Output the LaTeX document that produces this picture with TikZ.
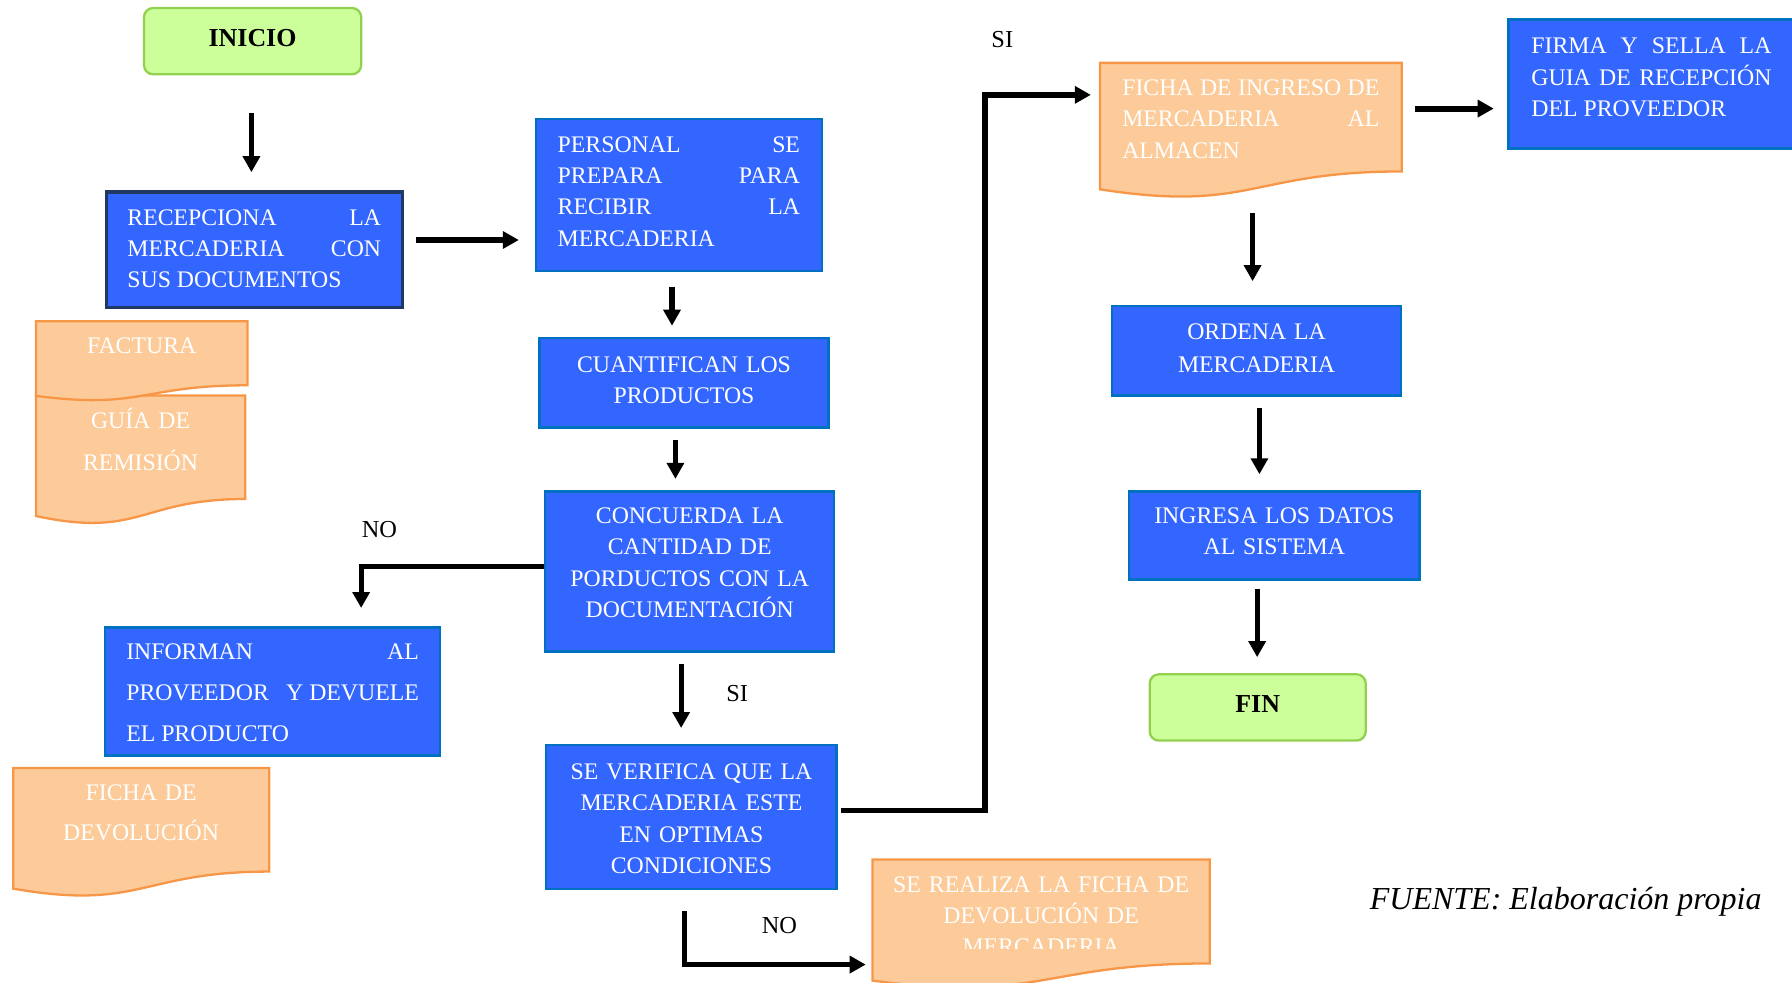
\documentclass[tikz,border=0pt]{standalone}
\usepackage{fontspec}
\setmainfont{Liberation Serif}
\usetikzlibrary{arrows.meta,calc,backgrounds}

\definecolor{procblue}{RGB}{51,102,255}
\definecolor{procedge}{RGB}{0,112,192}
\definecolor{navyedge}{RGB}{31,56,100}
\definecolor{docfill}{RGB}{252,203,153}
\definecolor{docedge}{RGB}{247,150,70}
\definecolor{termfill}{RGB}{204,255,153}
\definecolor{termedge}{RGB}{146,208,80}

\newcommand{\bodyfont}{\fontsize{15.6}{20.6}\selectfont}
\newcommand{\loosefont}{\fontsize{15.6}{27}\selectfont}
% wavy bottom of a document shape, #2 = full height
\newcommand{\docpath}[2]{%
  \path[docline] (#1.north west) -- (#1.north east) -- ($(#1.north east)+(0,0.802*#2)$)
    .. controls ($(#1.north)+(0,0.802*#2)$) and ($(#1.north)+(0,1.107*#2)$) .. ($(#1.north west)+(0,0.934*#2)$) -- cycle;}

\tikzset{every picture/.style={line width=0.75pt}}
\tikzset{
  proc/.style={draw=procedge, fill=procblue, line width=1.5pt, text=white, font=\bodyfont, align=center, inner xsep=10pt, inner ysep=0pt},
  term/.style={draw=termedge, fill=termfill, line width=1.5pt, rounded corners=6pt, font=\fontsize{17}{20}\selectfont\bfseries, minimum width=142.5pt, inner ysep=0pt, text height=25.3pt, text depth=18.2pt},
  doc/.style={anchor=north, text=white, font=\bodyfont, align=center, text height=10.3pt, inner ysep=10.8pt, inner xsep=10pt},
  docline/.style={draw=docedge, fill=docfill, line width=1.5pt},
  arr/.style={line width=3.3pt, -{Triangle[length=10.5pt,width=11pt]}},
  lab/.style={font=\fontsize{16}{19}\selectfont},
}

\begin{document}
\begin{tikzpicture}[x=0.75pt,y=0.75pt,yscale=-1,xscale=1]
%set diagram to the size of the page
\useasboundingbox (0,0) rectangle (1568,860);

%Shape: Rounded Rect
\node[term] (inicio) at (221,36) {INICIO};
%Shape: Rectangle
\node[proc, draw=navyedge, line width=2pt, minimum width=194.25pt, text width=166.5pt, text height=21.7pt, text depth=54.05pt, align=justify] (recep) at (222.5,218.5) {RECEPCIONA LA\linebreak MERCADERIA CON\linebreak SUS DOCUMENTOS};
%Shape: Rectangle
\node[proc, minimum width=187.5pt, text width=159pt, text height=21.75pt, text depth=78pt, align=justify] (personal) at (594,170.5) {PERSONAL SE\linebreak PREPARA PARA\linebreak RECIBIR LA\linebreak MERCADERIA};
%Shape: Rectangle
\node[proc, minimum width=189.75pt, text width=169.75pt, text height=22.5pt, text depth=36pt] (cuant) at (598.5,335) {CUANTIFICAN LOS\\PRODUCTOS};
%Shape: Rectangle
\node[proc, minimum width=189.75pt, text width=169.75pt, text height=21pt, text depth=84pt] (concuerda) at (603.5,500) {CONCUERDA LA\\CANTIDAD DE\\PORDUCTOS CON LA\\DOCUMENTACIÓN};
%Shape: Rectangle
\node[proc, font=\loosefont, minimum width=219.75pt, text width=192pt, text height=21pt, text depth=63pt, align=justify] (informan) at (238.5,605) {INFORMAN AL\linebreak PROVEEDOR \hfill Y DEVUELE\linebreak EL PRODUCTO};
%Shape: Rectangle
\node[proc, minimum width=190.5pt, text width=170.5pt, text height=22.5pt, text depth=72pt] (verif) at (605,715) {SE VERIFICA QUE LA\\MERCADERIA ESTE\\EN OPTIMAS\\CONDICIONES};
%Shape: Rectangle
\node[proc, minimum width=187.5pt, text width=157.5pt, text height=22.5pt, text depth=62.25pt, align=justify] (firma) at (1445,73.5) {FIRMA Y SELLA LA\linebreak GUIA DE RECEPCIÓN\linebreak DEL PROVEEDOR};
%Shape: Rectangle
\node[proc, font=\fontsize{15.6}{21.75}\selectfont, minimum width=189.75pt, text width=169.75pt, text height=21.75pt, text depth=36.75pt] (ordena) at (1099.5,307) {ORDENA LA\\MERCADERIA};
%Shape: Rectangle
\node[proc, minimum width=190.5pt, text width=170.5pt, text height=21pt, text depth=36.75pt] (ingresa) at (1115,468.5) {INGRESA LOS DATOS\\AL SISTEMA};
%Shape: Rounded Rect
\node[term, minimum width=141.75pt] (fin) at (1100.5,619) {FIN};

%Shape: Document
\node[doc, minimum width=138pt, text width=118pt] (factura) at (124,281) {FACTURA};
%Shape: Document
\node[doc, font=\fontsize{15.6}{27.75}\selectfont, minimum width=136.5pt, text width=116.5pt] (guia) at (123,346) {GUÍA DE\\REMISIÓN};
%Shape: Document
\node[doc, font=\fontsize{15.6}{26.25}\selectfont, minimum width=167.25pt, text width=147.25pt] (devol) at (123.5,672) {FICHA DE\\DEVOLUCIÓN};
%Shape: Document
\node[doc, minimum width=197.25pt, text width=168.75pt, align=justify] (ingreso) at (1094.5,55) {FICHA DE INGRESO DE\linebreak MERCADERIA AL\linebreak ALMACEN};
%Shape: Document (last line cut off)
\begin{scope}
\clip (700,740) rectangle (1100,830);
\node[doc, minimum width=220.5pt, text width=200.5pt] (realiza) at (911,752) {SE REALIZA LA FICHA DE\\DEVOLUCIÓN DE\\MERCADERIA};
\end{scope}
\begin{scope}[on background layer]
\foreach \n/\h in {guia/113,factura/70,devol/113,ingreso/118.5,realiza/113.5}
  {\docpath{\n}{\h}}
\end{scope}

%Straight Lines
\draw[arr, shorten <=24.75pt, shorten >=12pt] ($(inicio.south)+(-1,0)$) -- ($(recep.north)+(-2.5,0)$);
%Straight Lines
\draw[arr, line width=4pt, shorten <=8.25pt, shorten >=10.5pt] ($(recep.east)+(0,-8.5)$) -- ($(personal.west)+(0,39.5)$);
%Straight Lines
\draw[arr, shorten <=9.75pt, shorten >=7.5pt] ($(personal.south)+(-6,0)$) -- ($(cuant.north)+(-10.5,0)$);
%Straight Lines
\draw[arr, shorten <=7.5pt, shorten >=7.5pt] ($(cuant.south)+(-7.5,0)$) -- ($(concuerda.north)+(-12.5,0)$);
%Connector NO
\draw[arr, shorten >=12pt] ($(concuerda.west)+(0,-4)$) -| ($(informan.north)+(77.5,0)$);
%Straight Lines
\draw[arr, shorten <=7.5pt, shorten >=10.5pt] ($(concuerda.south)+(-7.5,0)$) -- ($(verif.north)+(-9,0)$);
%Connector SI
\draw[arr, line width=3.6pt, shorten <=2.25pt, shorten >=6pt] ($(verif.east)+(0,-6)$) -- ++(129,0) |- ($(ingreso.north west)+(0,28)$);
%Connector NO
\draw[arr, shorten <=13.5pt, shorten >=4.5pt] ($(verif.south)+(-6,0)$) |- ($(realiza.north west)+(0,92)$);
%Straight Lines
\draw[arr, line width=4pt, shorten <=9pt, shorten >=9pt] ($(ingreso.north east)+(0,40)$) -- ($(firma.west)+(0,21.5)$);
%Straight Lines
\draw[arr, shorten >=15.75pt] ($(ingreso.north)+(1.5,131)$) -- ($(ordena.north)+(-3.5,0)$);
%Straight Lines
\draw[arr, shorten <=7.5pt, shorten >=10.5pt] ($(ordena.south)+(2.5,0)$) -- ($(ingresa.north)+(-13,0)$);
%Straight Lines
\draw[arr, shorten <=5.25pt, shorten >=10.5pt] ($(ingresa.south)+(-15,0)$) -- ($(fin.north)+(-0.5,0)$);

% Text Node
\node[lab] (si1) at (877,35) {SI};
% Text Node
\node[lab] (no1) at (332,463) {NO};
% Text Node
\node[lab] (si2) at (645,607) {SI};
% Text Node
\node[lab] (no2) at (682,810) {NO};
% Text Node
\node[font=\fontsize{21}{25}\selectfont\itshape] (fuente) at (1370,789) {FUENTE: Elaboración propia};

\end{tikzpicture}
\end{document}
